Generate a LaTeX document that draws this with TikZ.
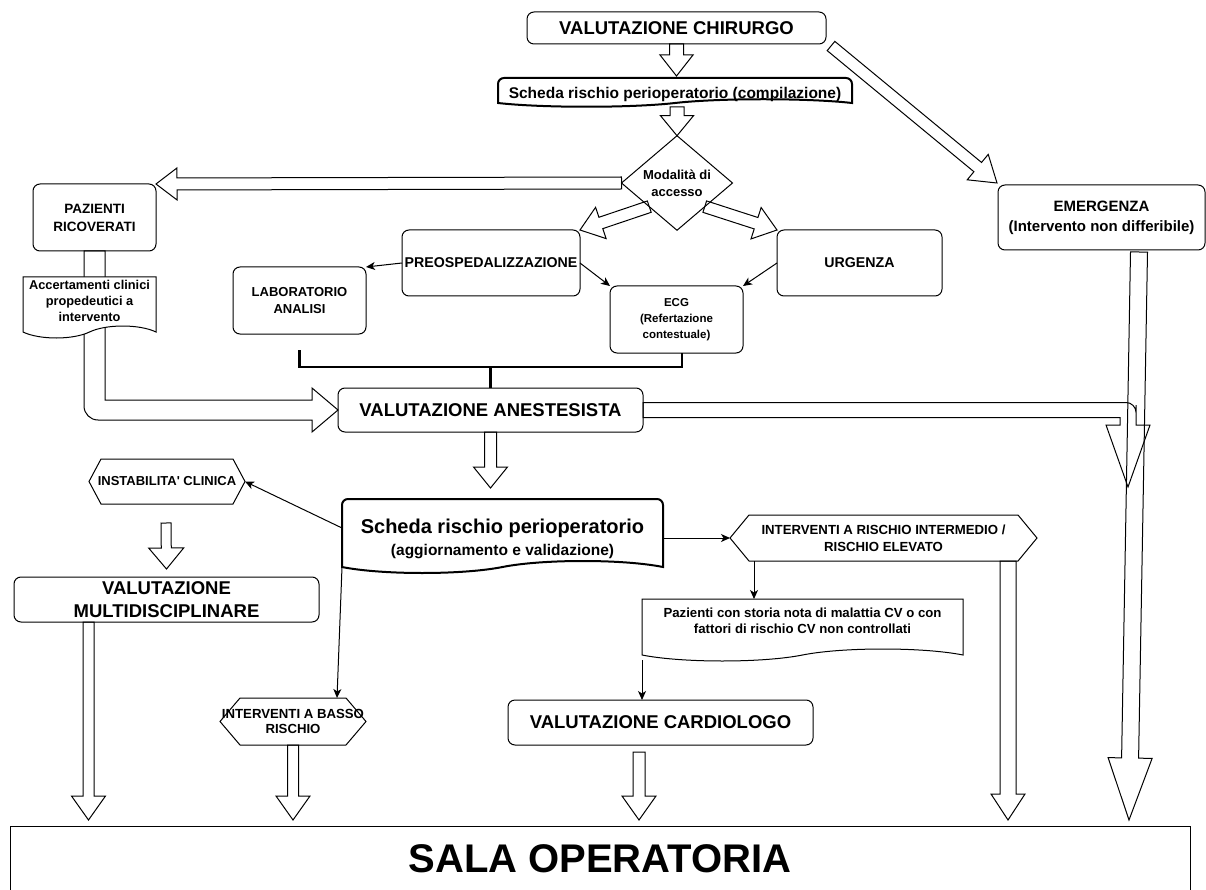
\documentclass[tikz,border=0pt]{standalone}
\usepackage{fontspec}
\setmainfont{Liberation Sans}
\usetikzlibrary{calc,shapes.geometric,arrows.meta}

\tikzset{
  every node/.style={inner sep=0pt, outer sep=0pt, align=center},
  fnt/.style 2 args={font=\bfseries\fontsize{#1}{#2}\selectfont},
  wh/.style 2 args={minimum width=#1pt, minimum height=#2pt},
  box/.style={draw, line width=1pt, rounded corners=7pt, fill=white},
  blk/.style={draw, line width=1pt, line join=miter},
  link/.style={line width=1pt, -{Stealth[length=9pt,width=8pt,inset=2.5pt]}},
  docthin/.style={draw, line width=1pt, fill=white},
  docthick/.style={draw, line width=2pt, fill=white},
  hexline/.style={draw, line width=1pt},
  bracket/.style={draw, line width=2.5pt},
}

% hollow block arrow: #1 tail, #2 tip, #3 shaft width, #4 head width, #5 head length
\newcommand\blockarrow[5]{%
  \coordinate (hb) at ($(#2)!#5pt!(#1)$);
  \draw[blk] ($(#1)!#3*0.5pt!90:(#2)$) -- ($(hb)!#3*0.5pt!90:(#2)$)
    -- ($(hb)!#4*0.5pt!90:(#2)$) -- (#2) -- ($(hb)!#4*0.5pt!-90:(#2)$)
    -- ($(hb)!#3*0.5pt!-90:(#2)$) -- ($(#1)!#3*0.5pt!-90:(#2)$) -- cycle;}

% document outline around a node: straight top, wavy bottom
% #1 style, #2 node, #3 wave depth, #4 top corner radius
\newcommand\docshape[4]{%
  \draw[#1] (#2.east) [rounded corners=#4pt] -- (#2.north east) -- (#2.north west)
    -- (#2.west) [sharp corners] -- (#2.south west)
    .. controls ($(#2.south west)!0.125!(#2.south east)+(0,#3)$) and ($(#2.south west)!0.375!(#2.south east)+(0,#3)$) .. (#2.south)
    .. controls ($(#2.south west)!0.625!(#2.south east)+(0,-#3)$) and ($(#2.south west)!0.875!(#2.south east)+(0,-#3)$) .. (#2.south east)
    -- cycle;}

% hexagon with pointed left and right ends: #1 node, #2 inset
\newcommand\hexshape[2]{%
  \draw[hexline] (#1.west) -- ($(#1.north west)+(#2,0)$) -- ($(#1.north east)+(-#2,0)$)
    -- (#1.east) -- ($(#1.south east)+(-#2,0)$) -- ($(#1.south west)+(#2,0)$) -- cycle;}

\begin{document}
\begin{tikzpicture}[x=1pt,y=-1pt]
\useasboundingbox (0,0) rectangle (1206,890);
\clip (0,0) rectangle (1206,890);
\fill[white] (0,0) rectangle (1206,890);

% ---------- upper part ----------
\node[box, wh={299}{32}, fnt={18.5}{22}] (chir) at (676.5,28) {VALUTAZIONE CHIRURGO};

\node[wh={354}{25}] (doc1) at (675,90.5) {};
\docshape{docthick}{doc1}{5}{6}
\node[fnt={15.5}{18}] (doc1t) at (675,94) {Scheda rischio perioperatorio (compilazione)};

\node[diamond, draw, line width=1pt, fill=white, wh={111}{90}, fnt={13}{17}] (mod) at (677,183) {Modalità di\\accesso};

\node[box, wh={123}{67}, fnt={13.5}{18}] (paz) at (94.5,217.5) {PAZIENTI\\RICOVERATI};
\node[box, wh={178}{66}, fnt={14.2}{17}] (prep) at (491,263) {PREOSPEDALIZZAZIONE};
\node[box, wh={165}{66}, fnt={14.2}{17}] (urg) at (859.5,263) {URGENZA};
\node[box, wh={133}{67}, fnt={13}{17}] (lab) at (299.5,300.5) {LABORATORIO\\ANALISI};
\node[box, wh={133}{67}, fnt={11.5}{16}] (ecg) at (676.5,319.5) {ECG\\(Refertazione\\contestuale)};
\node[box, wh={305}{44}, fnt={18.5}{22}] (ane) at (490.5,410) {VALUTAZIONE ANESTESISTA};
\node[box, wh={207}{65}, fnt={15}{20}] (emer) at (1101.5,217.5) {EMERGENZA\\(Intervento non differibile)};

% ---------- lower part ----------
\node[wh={321}{68}] (sch2) at (502.5,533) {};
\docshape{docthick}{sch2}{8}{6}
\node[fnt={15.5}{22}] (sch2t) at (502.5,539) {{\fontsize{20}{22}\selectfont Scheda rischio perioperatorio}\\(aggiornamento e validazione)};

\node[wh={156}{45}, fnt={13}{15}] (ins) at (167,481.5) {INSTABILITA\textquotesingle{} CLINICA};
\hexshape{ins}{12}

\node[box, wh={305}{45}, fnt={18.5}{23}] (multi) at (166.5,599.5) {VALUTAZIONE\\MULTIDISCIPLINARE};

\node[wh={307}{46}, fnt={13.2}{17}] (int) at (883.5,538) {INTERVENTI A RISCHIO INTERMEDIO /\\RISCHIO ELEVATO};
\hexshape{int}{19}

\node[wh={321}{56}] (pcv) at (802.5,627) {};
\docshape{docthin}{pcv}{8}{0}
\node[fnt={13.2}{15.5}] (pcvt) at (802.5,621) {Pazienti con storia nota di malattia CV o con\\fattori di rischio CV non controllati};

\node[box, wh={305}{45}, fnt={18.5}{22}] (card) at (660.5,722.5) {VALUTAZIONE CARDIOLOGO};

\node[wh={146}{47}, fnt={13.2}{14.5}] (basso) at (293,721.5) {INTERVENTI A BASSO\\RISCHIO};
\hexshape{basso}{20}

\node[draw, line width=1pt, wh={1180}{66}, fnt={40}{42}] (sala) at (600,859) {SALA OPERATORIA};

% ---------- bent block arrows ----------
\draw[blk] ($(paz.south)+(-10.5,0)$) -- ($(paz.south)+(10.5,0)$) -- (105,400) -- (312,400)
  -- (312,388) -- (ane.west) -- (312,432) -- (312,420) [rounded corners=14pt] -- (84,420)
  -- (84,330) [sharp corners] -- cycle;

\draw[blk] ($(ane.east)+(0,-7.5)$) -- (1120,402.5) [rounded corners=10pt] -- (1136,402.5)
  -- (1136,415) [sharp corners] -- (1136,425) -- (1150,425) -- (1128,487) -- (1106,425)
  -- (1120,425) -- (1120,417.5) -- ($(ane.east)+(0,7.5)$) -- cycle;

% document laid over the arrow shaft
\node[wh={133}{55}] (acc) at (89.5,304.5) {};
\docshape{docthin}{acc}{8}{0}
\node[fnt={12.8}{16}] (acct) at (89.5,301) {Accertamenti clinici\\propedeutici a\\intervento};

% ---------- straight block arrows ----------
\coordinate (p1) at ($(doc1.north)+(1.5,-2)$);
\blockarrow{chir.south}{p1}{14}{33}{21}
\coordinate (p2) at ($(doc1.south)+(2,4)$);
\blockarrow{p2}{mod.north}{14}{33}{20}
\blockarrow{mod.west}{paz.north east}{12}{32}{21}
\blockarrow{mod.south west}{prep.north east}{12}{33}{22}
\blockarrow{mod.south east}{urg.north west}{12}{33}{22}
\coordinate (p3) at ($(chir.south east)+(5,2)$);
\coordinate (p4) at ($(emer.north west)+(-1,-2)$);
\blockarrow{p3}{p4}{12}{33}{25}
\coordinate (p5) at ($(ane.south |- sch2.north)+(0,-11)$);
\blockarrow{ane.south}{p5}{12}{34}{21}
\coordinate (p6) at ($(ins.south)+(-1,19)$);
\coordinate (p7) at ($(multi.north)+(0,-8)$);
\blockarrow{p6}{p7}{10}{35}{21}

\coordinate (q1) at ($(multi.south west)+(74.5,0)$);
\coordinate (q1e) at ($(q1 |- sala.north)+(0,-6)$);
\blockarrow{q1}{q1e}{11}{34}{24}
\coordinate (q2e) at ($(basso.south |- sala.north)+(0,-6)$);
\blockarrow{basso.south}{q2e}{11}{34}{24}
\coordinate (q3) at ($(card.south)+(-21.5,7)$);
\coordinate (q3e) at ($(q3 |- sala.north)+(0,-6)$);
\blockarrow{q3}{q3e}{12}{34}{24}
\coordinate (q4) at ($(int.south east)+(-29,0)$);
\coordinate (q4e) at ($(q4 |- sala.north)+(0,-6)$);
\blockarrow{q4}{q4e}{16}{34}{26}
\coordinate (q5) at ($(emer.south)+(37.5,2)$);
\coordinate (q5x) at ($(emer.south)+(27.5,0)$);
\coordinate (q5e) at ($(q5x |- sala.north)+(0,-6)$);
\blockarrow{q5}{q5e}{17}{44}{62}

% ---------- thin connectors ----------
\draw[link] (prep.west) -- (lab.north east);
\draw[link] (prep.east) -- (ecg.north west);
\draw[link] (urg.west) -- (ecg.north east);
\draw[link] ($(sch2.north west)+(0,29)$) -- (ins.east);
\draw[link] (sch2.east |- int.west) -- (int.west);
\draw[link] (sch2.south west) -- ($(basso.north east)+(-29,0)$);
\coordinate (r1) at ($(int.south west)+(24,0)$);
\draw[link] (r1) -- (r1 |- pcv.north);
\coordinate (r2) at ($(pcv.south west)+(0,5)$);
\draw[link] (r2) -- (r2 |- card.north);

% bracket joining the examinations to the anaesthesia assessment
\draw[bracket] ($(lab.south)+(0,16)$) -- ++(0,17) -| ($(ecg.south)+(5.5,0)$);
\draw[bracket] (ane.north) -- ++(0,-21);
\end{tikzpicture}
\end{document}
